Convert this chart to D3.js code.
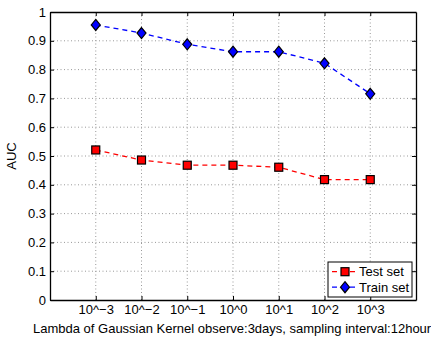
<!DOCTYPE html>
<html>
<head>
<meta charset="utf-8">
<script src="https://cdnjs.cloudflare.com/ajax/libs/d3/7.8.5/d3.min.js"></script>
<style>
body { margin: 0; background: #fff; }
svg { display: block; font-family: "Liberation Sans", Arial, sans-serif; }
.grid line { stroke: #999; stroke-dasharray: 1,2.5; }
</style>
</head>
<body>
<svg width="431" height="338"></svg>
<script>
var categories = ["10^\u22123", "10^\u22122", "10^\u22121", "10^0", "10^1", "10^2", "10^3"];
var testValues = [0.521, 0.486, 0.468, 0.468, 0.461, 0.418, 0.418];
var trainValues = [0.955, 0.927, 0.888, 0.862, 0.862, 0.822, 0.716];
var yTicks = [0, 0.1, 0.2, 0.3, 0.4, 0.5, 0.6, 0.7, 0.8, 0.9, 1];

var svg = d3.select("svg"),
    margin = {top: 12, right: 15, bottom: 38, left: 50},
    width = +svg.attr("width") - margin.left - margin.right,
    height = +svg.attr("height") - margin.top - margin.bottom;

var x = d3.scaleLinear().domain([0, 8]).range([0, width]),
    y = d3.scaleLinear().domain([0, 1]).range([height, 0]);

var g = svg.append("g")
    .attr("transform", "translate(" + margin.left + "," + margin.top + ")");

// grid
g.append("g").attr("class", "grid")
  .selectAll("line").data(yTicks.slice(1, -1)).enter().append("line")
    .attr("x1", 0).attr("x2", width)
    .attr("y1", function(d) { return y(d); }).attr("y2", function(d) { return y(d); });
g.append("g").attr("class", "grid")
  .selectAll("line").data(categories).enter().append("line")
    .attr("y1", 0).attr("y2", height)
    .attr("x1", function(d, i) { return x(i + 1); }).attr("x2", function(d, i) { return x(i + 1); });

// axes
var xAxis = d3.axisBottom(x).tickValues(d3.range(1, 8))
    .tickFormat(function(d) { return categories[d - 1]; })
    .tickSizeInner(-4).tickSizeOuter(0).tickPadding(5);
var yAxis = d3.axisLeft(y).tickValues(yTicks)
    .tickFormat(function(d) { return d; })
    .tickSizeInner(-4).tickSizeOuter(0).tickPadding(4);

g.append("g").attr("transform", "translate(0," + height + ")").call(xAxis);
g.append("g").call(yAxis);
g.append("g").call(d3.axisTop(x).tickValues(d3.range(1, 8)).tickFormat("").tickSizeInner(-4).tickSizeOuter(0));
g.append("g").attr("transform", "translate(" + width + ",0)")
  .call(d3.axisRight(y).tickValues(yTicks).tickFormat("").tickSizeInner(-4).tickSizeOuter(0));

g.selectAll(".domain").attr("stroke", "#000").attr("stroke-width", 1.3);
g.selectAll(".tick line").attr("stroke", "#000");
g.selectAll(".tick text").attr("font-size", 13).attr("fill", "#000")
  .attr("font-family", "Liberation Sans, Arial, sans-serif");

// series
var line = d3.line()
    .x(function(d, i) { return x(i + 1); })
    .y(function(d) { return y(d); });

g.append("path").datum(testValues)
  .attr("d", line).attr("fill", "none")
  .attr("stroke", "#f00").attr("stroke-width", 1.3).attr("stroke-dasharray", "5,4");
g.append("path").datum(trainValues)
  .attr("d", line).attr("fill", "none")
  .attr("stroke", "#00f").attr("stroke-width", 1.3).attr("stroke-dasharray", "5,4");

var diamond = "M0,-5.5L4.5,0L0,5.5L-4.5,0Z";

g.selectAll(".sq").data(testValues).enter().append("rect")
  .attr("x", function(d, i) { return x(i + 1) - 4; })
  .attr("y", function(d) { return y(d) - 4; })
  .attr("width", 8).attr("height", 8)
  .attr("fill", "#f00").attr("stroke", "#000").attr("stroke-width", 1.2);

g.selectAll(".dm").data(trainValues).enter().append("path")
  .attr("transform", function(d, i) { return "translate(" + x(i + 1) + "," + y(d) + ")"; })
  .attr("d", diamond)
  .attr("fill", "#00f").attr("stroke", "#000").attr("stroke-width", 1.2);

// labels
svg.append("text")
  .attr("transform", "translate(16," + (margin.top + height / 2) + ") rotate(-90)")
  .attr("text-anchor", "middle").attr("font-size", 13).text("AUC");
svg.append("text")
  .attr("x", 33).attr("y", 333)
  .attr("font-size", 13)
  .text("Lambda of Gaussian Kernel observe:3days, sampling interval:12hours");

// legend
var lg = svg.append("g").attr("transform", "translate(328,262)");
lg.append("rect").attr("width", 84).attr("height", 35)
  .attr("fill", "#fff").attr("stroke", "#000").attr("stroke-width", 1);
var items = [
  {name: "Test set", color: "#f00", shape: "sq"},
  {name: "Train set", color: "#00f", shape: "dm"}
];
items.forEach(function(it, k) {
  var cy = 9.7 + k * 15.5;
  lg.append("line").attr("x1", 4).attr("x2", 29).attr("y1", cy).attr("y2", cy)
    .attr("stroke", it.color).attr("stroke-width", 1.3).attr("stroke-dasharray", "5,4");
  if (it.shape === "sq") {
    lg.append("rect").attr("x", 13).attr("y", cy - 4).attr("width", 8).attr("height", 8)
      .attr("fill", it.color).attr("stroke", "#000").attr("stroke-width", 1.2);
  } else {
    lg.append("path").attr("transform", "translate(17," + cy + ")").attr("d", diamond)
      .attr("fill", it.color).attr("stroke", "#000").attr("stroke-width", 1.2);
  }
  lg.append("text").attr("x", 31).attr("y", cy + 4.5).attr("font-size", 13).text(it.name);
});
</script>
</body>
</html>
